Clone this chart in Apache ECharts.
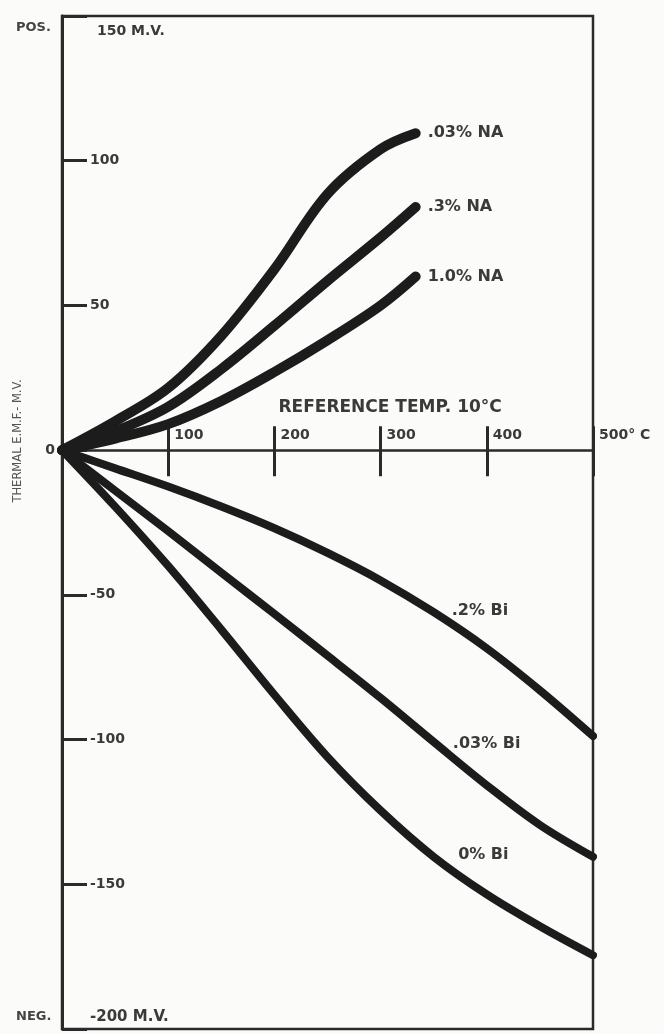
<!DOCTYPE html>
<html>
<head>
<meta charset="utf-8">
<script src="https://cdn.jsdelivr.net/npm/echarts@6/dist/echarts.min.js"></script>
<style>
html,body{margin:0;padding:0;background:#fbfbfa;}
#c{width:664px;height:1034px;}
</style>
</head>
<body>
<div id="c"></div>
<script>
// ---- data ----
const naTemps = [0, 50, 100, 150, 200, 250, 300, 333];
const biTemps = [0, 50, 100, 150, 200, 250, 300, 350, 400, 450, 500];
const na003 = [0, 10, 21.5, 39.5, 62.5, 88.5, 104, 109.5];
const na03  = [0, 6.5, 15, 28, 43, 58.5, 73.5, 84];
const na10  = [0, 4, 9, 17, 27, 38, 50, 60];
const bi02  = [0, -6.3, -12.6, -19.5, -27, -35.5, -45, -56, -68.5, -83, -98.8];
const bi003 = [0, -14, -28, -42.3, -56.6, -71, -85.6, -100.8, -115.8, -129.5, -140.5];
const bi0   = [0, -19.5, -40, -62, -84.5, -106, -124.5, -140.5, -153.5, -164.5, -174.5];
const naNames = ['.03% NA', '.3% NA', '1.0% NA'];
const biNames = ['.2% Bi', '.03% Bi', '0% Bi'];
const xTickLabels = {100: '100', 200: '200', 300: '300', 400: '400', 500: '500° C'};
const yTickLabels = {100: '100', 50: '50', '-50': '-50', '-100': '-100', '-150': '-150'};
const yMaxLabel = '150 M.V.';
const yMinLabel = '-200 M.V.';
const yZeroLabel = '0';
const posLabel = 'POS.';
const negLabel = 'NEG.';
const yTitle = 'THERMAL E.M.F.- M.V.';
const xTitle = 'REFERENCE TEMP. 10°C';

// label anchors for Bi curves (data coords, placement only)
const biLabelAnchors = [[367, -55.4], [368, -101.4], [373, -140]];

const ink = '#1c1c1c';
const txt = '#3a3a3a';
const FONT = 'DejaVu Sans';

const chart = echarts.init(document.getElementById('c'), null, {renderer: 'canvas'});

function pairs(xs, ys) { return xs.map((x, i) => [x, ys[i]]); }

const naSeries = [na003, na03, na10].map((d, i) => ({
  type: 'line', name: naNames[i], data: pairs(naTemps, d),
  smooth: 0.35, showSymbol: false, symbol: 'none', silent: true,
  lineStyle: {color: ink, width: 10, cap: 'round'},
  endLabel: {show: true, formatter: naNames[i], distance: 12,
    color: txt, fontFamily: FONT, fontWeight: 'bold', fontSize: 16}
}));
const biSeries = [bi02, bi003, bi0].map((d, i) => ({
  type: 'line', name: biNames[i], data: pairs(biTemps, d),
  smooth: 0.35, showSymbol: false, symbol: 'none', silent: true,
  lineStyle: {color: ink, width: 8, cap: 'round'}
}));

const axisTxt = {color: txt, fontFamily: FONT, fontWeight: 'bold', fontSize: 14};

chart.setOption({
  animation: false,
  backgroundColor: '#fbfbfa',
  grid: {left: 62, top: 16, width: 531, bottom: 5, show: true,
    borderColor: '#2a2a2a', borderWidth: 2.5, backgroundColor: 'transparent'},
  xAxis: [{
    type: 'value', min: 0, max: 500, interval: 100, position: 'bottom',
    axisLine: {show: true, onZero: false, lineStyle: {color: '#2a2a2a', width: 2.5}},
    axisTick: {show: true, inside: true, length: 24, lineStyle: {color: '#2a2a2a', width: 3}},
    axisLabel: Object.assign({inside: true, margin: 8, align: 'left', padding: [0, 0, 0, 6],
      formatter: v => xTickLabels[v] || '', showMinLabel: true, showMaxLabel: true}, axisTxt),
    splitLine: {show: false}
  }, {
    type: 'value', min: 0, max: 500, interval: 100, position: 'top',
    axisLine: {show: false, onZero: false},
    axisTick: {show: true, inside: true, length: 26, lineStyle: {color: '#2a2a2a', width: 3}},
    axisLabel: {show: false}, splitLine: {show: false}
  }],
  yAxis: {
    type: 'value', min: -200, max: 150, interval: 50,
    axisLine: {show: true, onZero: false, lineStyle: {color: '#2a2a2a', width: 3}},
    axisTick: {show: true, inside: true, length: 25, lineStyle: {color: '#2a2a2a', width: 3}},
    axisLabel: Object.assign({inside: true, margin: 28, formatter: v => yTickLabels[v] || ''}, axisTxt),
    splitLine: {show: false}
  },
  series: naSeries.concat(biSeries)
});

// move the x axes onto the zero line using the library's own scale
const p0 = chart.convertToPixel({gridIndex: 0}, [0, 0]);
const pTop = chart.convertToPixel({gridIndex: 0}, [0, 150]);
const pBot = chart.convertToPixel({gridIndex: 0}, [0, -200]);
chart.setOption({xAxis: [{offset: -(pBot[1] - p0[1])}, {offset: -(p0[1] - pTop[1])}]});

// annotations placed through the library's scales
const g = [];
biNames.forEach((n, i) => {
  const p = chart.convertToPixel({gridIndex: 0}, biLabelAnchors[i]);
  g.push({type: 'text', x: p[0], y: p[1], style: {text: n, align: 'left', verticalAlign: 'middle',
    fill: txt, font: 'bold 16px "' + FONT + '"'}});
});
const pTitle = chart.convertToPixel({gridIndex: 0}, [309, 0]);
g.push({type: 'text', x: p0[0] - 7, y: p0[1], style: {text: yZeroLabel, align: 'right', verticalAlign: 'middle', fill: txt, font: 'bold 14px "' + FONT + '"'}});
g.push({type: 'text', x: pTop[0] + 35, y: pTop[1] + 15, style: {text: yMaxLabel, align: 'left', verticalAlign: 'middle', fill: txt, font: 'bold 14px "' + FONT + '"'}});
g.push({type: 'text', x: pBot[0] + 28, y: pBot[1] - 12, style: {text: yMinLabel, align: 'left', verticalAlign: 'middle', fill: txt, font: 'bold 15px "' + FONT + '"'}});
g.push({type: 'text', x: pTop[0] - 46, y: pTop[1] + 12, style: {text: posLabel, align: 'left', verticalAlign: 'middle', fill: '#444', font: 'bold 13px "' + FONT + '"'}});
g.push({type: 'text', x: pBot[0] - 46, y: pBot[1] - 12, style: {text: negLabel, align: 'left', verticalAlign: 'middle', fill: '#444', font: 'bold 13px "' + FONT + '"'}});
g.push({type: 'text', x: pTitle[0], y: pTitle[1] - 43, style: {text: xTitle, align: 'center', verticalAlign: 'middle', fill: txt, font: 'bold 17px "' + FONT + '"'}});
g.push({type: 'text', x: 18, y: 441, rotation: Math.PI / 2, style: {text: yTitle, align: 'center', verticalAlign: 'middle', fill: '#555', font: '11.5px "' + FONT + '"'}});
chart.setOption({graphic: g});
</script>
</body>
</html>
